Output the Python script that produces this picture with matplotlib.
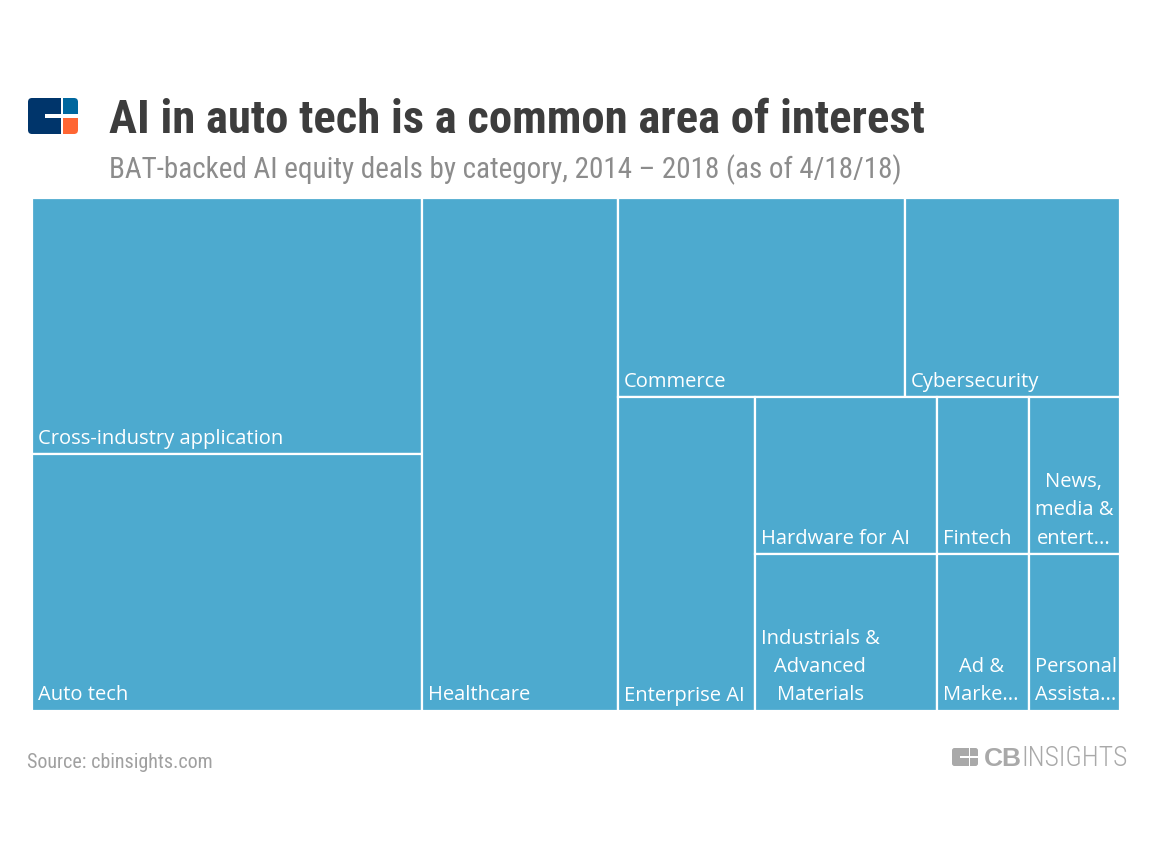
#!/usr/bin/env python3
# Treemap of BAT-backed AI equity deals by category
import matplotlib
matplotlib.use('Agg')
import matplotlib.pyplot as plt
from matplotlib.patches import Rectangle, FancyBboxPatch

# deal counts
col1_labels = ['Cross-industry application', 'Auto tech']
col1_values = [7, 7]
col2_labels = ['Healthcare']
col2_values = [7]
top_labels = ['Commerce', 'Cybersecurity']
top_values = [4, 3]
enterprise_labels = ['Enterprise AI']
enterprise_values = [3]
mid_labels = ['Hardware for AI', 'Industrials &\nAdvanced\nMaterials']
mid_values = [2, 2]
small1_labels = ['Fintech', 'Ad &\nMarke...']
small1_values = [1, 1]
small2_labels = ['News,\nmedia &\nentert...', 'Personal\nAssista...']
small2_values = [1, 1]

TITLE = 'AI in auto tech is a common area of interest'
SUBTITLE = 'BAT-backed AI equity deals by category, 2014 \u2013 2018 (as of 4/18/18)'
SOURCE = 'Source: cbinsights.com'

CELL = '#4daacf'
NARROW = ['Roboto Condensed', 'Liberation Sans Narrow', 'DejaVu Sans']
LABEL_FONT = ['Open Sans', 'DejaVu Sans']

fig = plt.figure(figsize=(11.52, 8.64), dpi=100, facecolor='white')

# page layer in pixels, for header, footer and logos
page = fig.add_axes([0, 0, 1, 1])
page.set_xlim(0, 1152)
page.set_ylim(864, 0)
page.axis('off')

# treemap layer, one unit = one deal in x*y
ax = fig.add_axes([31.5 / 1152, 1 - 711 / 864, 1088.5 / 1152, 513.5 / 864])
total = sum(col1_values) + sum(col2_values) + sum(top_values) + sum(enterprise_values) \
    + sum(mid_values) + sum(small1_values) + sum(small2_values)
ax.set_xlim(0, total)
ax.set_ylim(1, 0)
ax.axis('off')


def cell(x, y, w, h, label):
    ax.add_patch(Rectangle((x, y), w, h, facecolor=CELL, edgecolor='white', linewidth=1.6))
    # wrapped labels keep the left anchor, lines centred inside the block
    ax.annotate(label, (x, y + h), xytext=(6, 5.5), textcoords='offset pixels',
                color='white', fontsize=14.5, family=LABEL_FONT,
                ha='left', va='bottom', multialignment='center', linespacing=1.55)


def column(x, labels, values, y=0, height=1):
    # stack cells of one column, width follows from area
    w = sum(values) / height
    for lab, val in zip(labels, values):
        h = val / w
        cell(x, y, w, h, lab)
        y += h
    return x + w


x = column(0, col1_labels, col1_values)
x = column(x, col2_labels, col2_values)

# right block: top row then bottom row
rest = sum(top_values) + sum(enterprise_values) + sum(mid_values) + sum(small1_values) + sum(small2_values)
top_h = sum(top_values) / rest
x2 = x
for lab, val in zip(top_labels, top_values):
    w = val / top_h
    cell(x2, 0, w, top_h, lab)
    x2 += w

bot_h = 1 - top_h
x2 = x
x2 = column(x2, enterprise_labels, enterprise_values, top_h, bot_h)
x2 = column(x2, mid_labels, mid_values, top_h, bot_h)
x2 = column(x2, small1_labels, small1_values, top_h, bot_h)
x2 = column(x2, small2_labels, small2_values, top_h, bot_h)

# header
page.text(109, 120, TITLE, fontsize=33.7, fontweight='bold', color='#3d3d3d', family=NARROW,
          va='center', ha='left')
page.text(109, 170, SUBTITLE, fontsize=21, color='#8c8c8c', family=NARROW, va='center', ha='left')
page.text(27, 762, SOURCE, fontsize=14.45, color='#a0a0a0', family=NARROW, va='center', ha='left')


def logo(x0, y0, w, h, r, split, gap, notch, colors):
    # rounded outline clips the coloured blocks
    clip = FancyBboxPatch((x0 + r, y0 + r), w - 2 * r, h - 2 * r,
                          boxstyle='round,pad=%g,rounding_size=%g' % (r, r),
                          facecolor='none', edgecolor='none')
    page.add_patch(clip)
    right = x0 + split + gap
    mid = y0 + h / 2
    parts = [
        Rectangle((x0, y0), split, h, facecolor=colors[0], edgecolor='none'),
        Rectangle((x0 + notch, mid - gap), split - notch, 2 * gap, facecolor='white', edgecolor='none'),
        Rectangle((right, y0), w - split - gap, h / 2 - gap, facecolor=colors[1], edgecolor='none'),
        Rectangle((right, mid + gap), w - split - gap, h / 2 - gap, facecolor=colors[2], edgecolor='none'),
    ]
    for p in parts:
        page.add_patch(p)
        p.set_clip_path(clip)


# CB Insights logo, top left
logo(28, 98, 50, 36, 4, 33, 2, 17, ['#00356b', '#00679e', '#ff6633'])

# grey wordmark, bottom right
grey = '#a9a9a9'
logo(952, 748, 26, 18, 2.5, 17, 1, 8, [grey, grey, grey])
page.text(984, 766, 'CB', fontsize=19, fontweight='bold', color=grey, family=['Liberation Sans'],
          va='baseline', ha='left')
page.text(1021, 766, 'INSIGHTS', fontsize=19.8, color=grey, family=['Roboto Condensed', 'DejaVu Sans'],
          fontweight='light', va='baseline', ha='left')

fig.savefig('out.png', dpi=100)
